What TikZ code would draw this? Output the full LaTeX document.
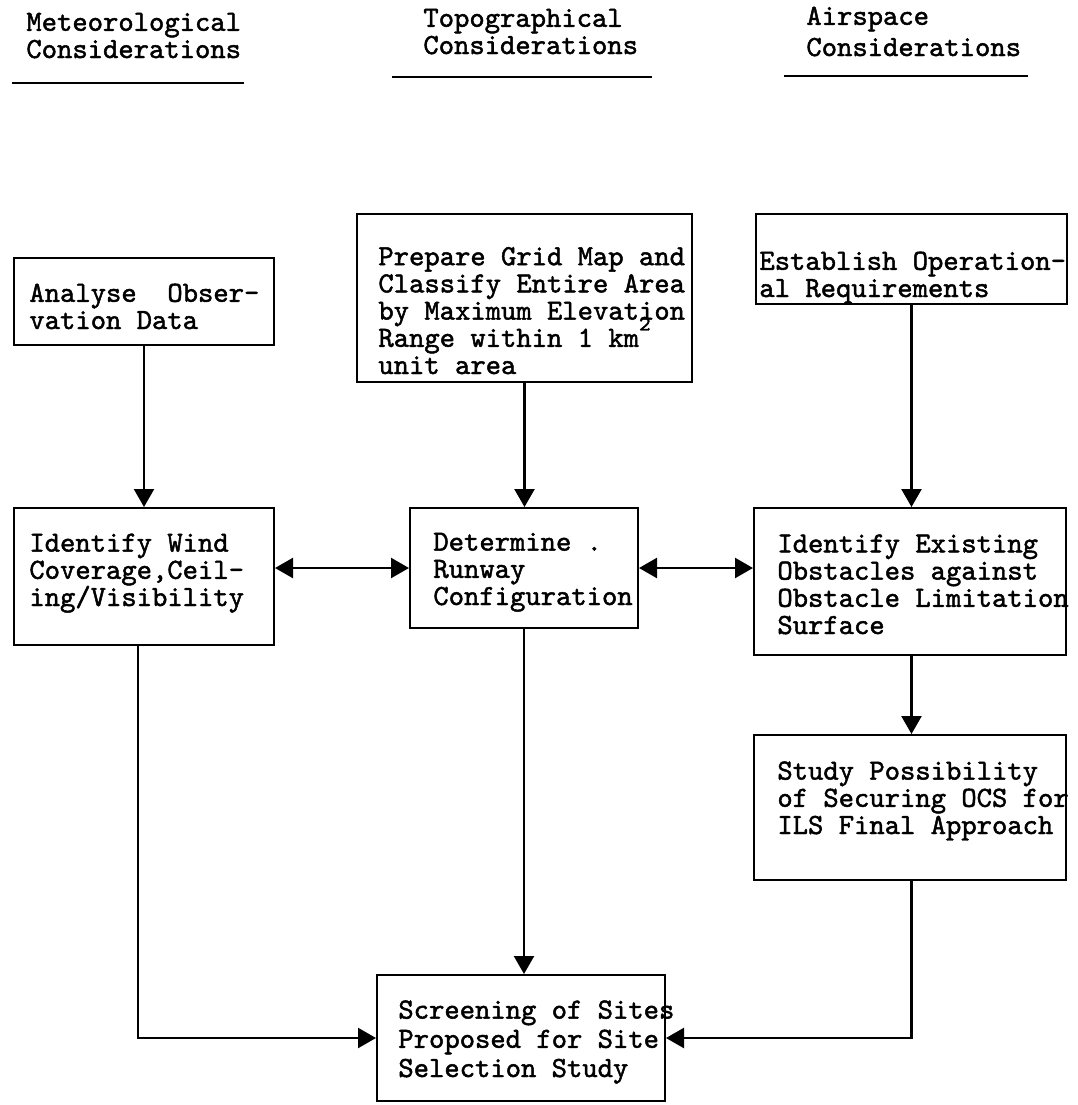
\documentclass[tikz,border=0pt]{standalone}
\usepackage{fontspec}
\usetikzlibrary{arrows.meta,fit}
\newfontfamily\tw[FakeBold=1.6]{lmmono10-regular.otf}
\begin{document}
\begin{tikzpicture}[x=0.5pt,y=-0.5pt,
  box/.style={draw, line width=1pt, inner sep=0pt},
  txt/.style={font=\tw\fontsize{14.6}{13.6}\selectfont, align=left, anchor=base west, inner sep=0pt},
  conn/.style={line width=1.2pt, -{Triangle[length=9pt,width=10pt]}},
  biconn/.style={line width=1.2pt, {Triangle[length=9pt,width=10pt]}-{Triangle[length=9pt,width=10pt]}},
  uline/.style={line width=1.3pt}]
\useasboundingbox (0,0) rectangle (1078,1105);
% headers (anchor = baseline of last line)
\node[txt] (hm) at (26,58) {Meteorological\\Considerations};
\node[txt] (ht) at (423,54) {Topographical\\Considerations};
\node[txt] (ha) at (806,56) {Airspace\\[2pt]Considerations};
\coordinate (um1) at (12,83); \coordinate (um2) at (244,83);
\coordinate (ut1) at (392,77); \coordinate (ut2) at (652,77);
\coordinate (ua1) at (784,76); \coordinate (ua2) at (1028,76);
\draw[uline] (um1) -- (um2);
\draw[uline] (ut1) -- (ut2);
\draw[uline] (ua1) -- (ua2);
% boxes
\coordinate (a1) at (14,258); \coordinate (a2) at (274,345);
\coordinate (b1) at (357,214); \coordinate (b2) at (692,382);
\coordinate (c1) at (756,214); \coordinate (c2) at (1067,304);
\coordinate (d1) at (14,508); \coordinate (d2) at (274,645);
\coordinate (e1) at (410,508); \coordinate (e2) at (638,628);
\coordinate (f1) at (754,508); \coordinate (f2) at (1066,655);
\coordinate (g1) at (754,735); \coordinate (g2) at (1066,880);
\coordinate (h1) at (377,975); \coordinate (h2) at (665,1101);
\node[box, fit=(a1)(a2)] (A) {};
\node[box, fit=(b1)(b2)] (B) {};
\node[box, fit=(c1)(c2)] (C) {};
\node[box, fit=(d1)(d2)] (D) {};
\node[box, fit=(e1)(e2)] (E) {};
\node[box, fit=(f1)(f2)] (F) {};
\node[box, fit=(g1)(g2)] (G) {};
\node[box, fit=(h1)(h2)] (H) {};
% texts (anchor = baseline of last line)
\node[txt] (ta) at (29,329) {Analyse\ \ Obser-\\vation Data};
\node[txt] (tb) at (378,374) {Prepare Grid Map and\\Classify Entire Area\\by Maximum Elevation\\Range within 1 km\smash{\raisebox{1.3ex}{\fontsize{11}{11}\selectfont 2}}\\unit area};
\node[txt] (tc) at (759,297) {Establish Operation-\\al Requirements};
\node[txt] (td) at (29,606) {Identify Wind\\Coverage,Ceil-\\ing/Visibility};
\node[txt] (te) at (433,605) {Determine .\\Runway\\Configuration};
\node[txt] (tf) at (777,634) {Identify Existing\\Obstacles against\\Obstacle Limitation\\Surface};
\node[txt] (tg) at (777,834) {Study Possibility\\of Securing OCS for\\ILS Final Approach};
\node[txt] (th) at (398,1077) {Screening of Sites\\[1pt]Proposed for Site\\[1pt]Selection Study};
% connectors
\draw[conn] (A.south) -- (A.south |- D.north);
\draw[conn] (B.south) -- (B.south |- E.north);
\draw[conn] (C.south) -- (C.south |- F.north);
\draw[conn] (F.south -| C.south) -- (C.south |- G.north);
\draw[biconn] (D.east |- E.center) -- (E.west |- E.center);
\draw[biconn] (E.east |- E.center) -- (F.west |- E.center);
\draw[conn] ([xshift=-3pt]D.south) |- (H.west);
\draw[conn] (E.south) -- (E.south |- H.north);
\draw[conn] (G.south -| C.south) |- (H.east);
\end{tikzpicture}
\end{document}
